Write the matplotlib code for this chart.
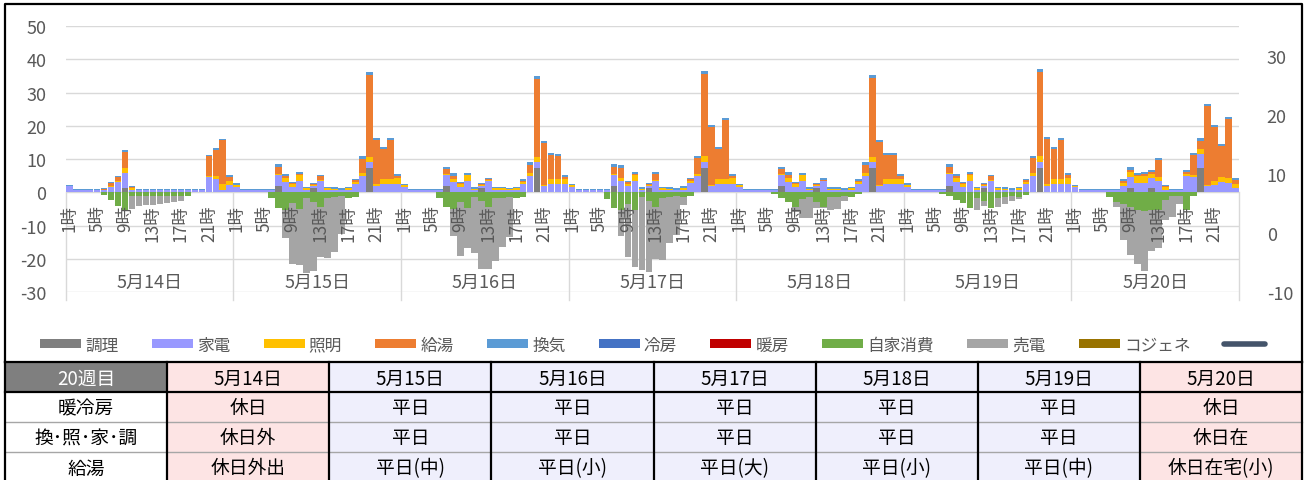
import numpy as np
import matplotlib.pyplot as plt
from matplotlib.patches import Rectangle

plt.rcParams['font.family'] = ['Noto Sans CJK JP', 'DejaVu Sans']
plt.rcParams['axes.unicode_minus'] = False

# ---- data (kWh-ish per hour, 7 days x 24 hours) ----
days = ['5月14日', '5月15日', '5月16日', '5月17日', '5月18日', '5月19日', '5月20日']
hour_ticks = [1, 5, 9, 13, 17, 21]

cook = [
    [0, 0, 0, 0, 0, 0, 0, 0, 1.4, 0, 0, 0, 0, 0, 0, 0, 0, 0, 0, 0, 0, 0, 0, 0],
    [0, 0, 0, 0, 0, 0, 2.0, 0, 0, 0, 0, 1.3, 0, 0, 0, 0, 0, 0, 0, 7.2, 0, 0, 0, 0],
    [0, 0, 0, 0, 0, 0, 2.0, 0, 0, 0, 0, 1.3, 0, 0, 0, 0, 0, 0, 0, 7.3, 0, 0, 0, 0],
    [0, 0, 0, 0, 0, 0, 2.0, 0, 0, 0, 0, 1.3, 0, 0, 0, 0, 0, 0, 0, 7.3, 0, 0, 0, 0],
    [0, 0, 0, 0, 0, 0, 2.0, 0, 0, 0, 0, 1.3, 0, 0, 0, 0, 0, 0, 0, 7.4, 0, 0, 0, 0],
    [0, 0, 0, 0, 0, 0, 2.0, 0, 0, 0, 0, 1.3, 0, 0, 0, 0, 0, 0, 0, 7.3, 0, 0, 0, 0],
    [0, 0, 0, 0, 0, 0, 0, 0, 1.2, 0, 0, 1.2, 0, 0, 0, 0, 0, 0, 7.3, 0, 0, 0, 0, 0],
]
appliance = [
    [1.9, 0.7, 0.7, 0.7, 0.7, 0.8, 1.6, 3.0, 4.5, 0.8, 0.7, 0.7, 0.7, 0.7, 0.7, 0.7, 0.7, 0.7, 0.7, 0.7, 4.5, 4.0, 0.8, 2.2],
    [1.5, 0.7, 0.7, 0.7, 0.7, 0.7, 3.2, 3.2, 1.6, 3.5, 0.7, 0.6, 3.4, 0.8, 0.8, 0.8, 0.8, 2.6, 5.0, 1.8, 1.9, 2.5, 2.4, 2.4],
    [1.5, 0.7, 0.7, 0.7, 0.7, 0.7, 3.2, 3.0, 1.7, 3.5, 0.7, 0.7, 3.5, 0.8, 0.8, 0.8, 0.8, 2.6, 5.0, 1.7, 1.9, 2.5, 2.4, 2.4],
    [1.5, 0.7, 0.7, 0.7, 0.7, 0.7, 3.3, 3.5, 1.8, 3.5, 0.7, 0.6, 3.4, 0.8, 0.8, 0.8, 0.8, 2.7, 5.0, 1.7, 1.9, 2.5, 2.4, 2.4],
    [1.6, 0.7, 0.7, 0.7, 0.7, 0.7, 3.3, 3.2, 1.7, 3.5, 0.7, 0.6, 3.3, 0.8, 0.8, 0.8, 0.8, 2.6, 5.0, 1.7, 1.9, 2.5, 2.4, 2.4],
    [1.5, 0.7, 0.7, 0.7, 0.7, 0.7, 3.5, 3.2, 1.6, 3.5, 0.7, 0.6, 3.4, 0.8, 0.8, 0.8, 0.8, 2.6, 5.0, 1.8, 1.9, 2.5, 2.4, 2.4],
    [1.6, 0.7, 0.7, 0.7, 0.7, 0.7, 0.7, 2.0, 3.5, 2.9, 2.9, 3.0, 3.5, 0.8, 0.8, 0.8, 4.8, 4.5, 4.2, 1.8, 2.1, 3.1, 2.8, 1.4],
]
lighting = [
    [0, 0, 0, 0, 0, 0, 0.4, 0.4, 1.5, 0.5, 0, 0, 0, 0, 0, 0, 0, 0, 0, 0, 0.3, 1.0, 1.6, 1.2],
    [0.6, 0, 0, 0, 0, 0, 0.2, 1.0, 0.9, 1.7, 0.5, 0.2, 0.2, 0.4, 0.3, 0, 0.4, 0.6, 0.7, 1.7, 0.6, 1.5, 1.6, 1.8],
    [0.6, 0, 0, 0, 0, 0, 0.2, 1.0, 0.8, 1.6, 0.4, 0.2, 0.1, 0.4, 0.4, 0.1, 0.4, 0.5, 0.9, 1.6, 0.4, 1.4, 1.6, 1.7],
    [0.6, 0, 0, 0, 0, 0, 0.3, 0.9, 0.8, 1.7, 0.4, 0.2, 0.3, 0.4, 0.3, 0, 0.5, 0.6, 0.6, 1.8, 0.4, 1.5, 1.6, 1.8],
    [0.6, 0, 0, 0, 0, 0, 0.2, 1.0, 0.8, 1.6, 0.4, 0.2, 0.1, 0.3, 0.3, 0, 0.4, 0.5, 0.9, 1.6, 0.4, 1.4, 1.6, 1.7],
    [0.6, 0, 0, 0, 0, 0, 0.2, 1.0, 0.9, 1.7, 0.5, 0.2, 0.2, 0.4, 0.3, 0, 0.4, 0.6, 0.7, 1.7, 0.6, 1.5, 1.6, 1.9],
    [0.4, 0, 0, 0, 0, 0, 0, 0.7, 1.3, 2.0, 2.0, 1.3, 1.2, 0.8, 0, 0, 0.6, 0.6, 1.5, 0.3, 1.3, 1.4, 1.6, 1.2],
]
hot_water = [
    [0, 0, 0, 0, 0, 0.1, 0.8, 1.2, 4.6, 0.2, 0, 0, 0, 0, 0, 0, 0, 0, 0, 0, 6.0, 7.8, 13.4, 1.3],
    [0.2, 0, 0, 0, 0, 0, 2.2, 0.8, 0.3, 0.4, 0, 0.4, 1.2, 0, 0, 0, 0.1, 0.4, 4.3, 24.5, 13.4, 9.1, 11.9, 0.7],
    [0, 0, 0, 0, 0, 0, 1.5, 0.9, 0.2, 0.2, 0, 0.2, 0.3, 0, 0, 0, 0, 0.4, 2.3, 23.5, 12.6, 7.3, 7.0, 0.5],
    [0, 0, 0, 0, 0, 0, 2.1, 3.0, 0.4, 0.4, 0, 0.5, 1.8, 0, 0, 0, 0.1, 0.6, 4.6, 24.8, 17.3, 9.1, 17.9, 0.7],
    [0, 0, 0, 0, 0, 0, 1.5, 1.1, 0.3, 0.2, 0, 0.5, 0.3, 0, 0, 0, 0, 0.4, 2.3, 23.6, 12.8, 7.4, 7.1, 0.7],
    [0.2, 0, 0, 0, 0, 0, 2.0, 0.8, 0.3, 0.4, 0, 0.4, 1.2, 0, 0, 0, 0.1, 0.4, 4.5, 25.4, 13.6, 9.1, 11.9, 0.8],
    [0, 0, 0, 0, 0, 0, 0, 0.8, 0.8, 0.4, 0.6, 0.6, 4.9, 0.3, 0, 0, 0.7, 6.0, 2.5, 24.0, 16.2, 9.6, 17.6, 1.0],
]
ventilation = [
    [0.3, 0.3, 0.3, 0.3, 0.3, 0.3, 0.3, 0.4, 0.7, 0.3, 0.3, 0.3, 0.3, 0.3, 0.3, 0.3, 0.3, 0.3, 0.3, 0.3, 0.4, 0.4, 0.4, 0.5],
    [0.4, 0.3, 0.3, 0.3, 0.3, 0.3, 0.8, 0.6, 0.3, 0.4, 0.4, 0.3, 0.4, 0.4, 0.4, 0.4, 0.4, 0.4, 0.8, 0.9, 0.6, 0.6, 0.6, 0.6],
    [0.4, 0.3, 0.3, 0.3, 0.3, 0.3, 0.7, 0.8, 0.4, 0.4, 0.4, 0.3, 0.5, 0.4, 0.4, 0.4, 0.4, 0.5, 0.8, 0.9, 0.6, 0.6, 0.6, 0.6],
    [0.4, 0.3, 0.3, 0.3, 0.3, 0.3, 0.7, 0.7, 0.4, 0.4, 0.4, 0.3, 0.5, 0.4, 0.4, 0.4, 0.4, 0.5, 0.8, 0.9, 0.6, 0.6, 0.6, 0.6],
    [0.4, 0.3, 0.3, 0.3, 0.3, 0.3, 0.7, 0.7, 0.4, 0.4, 0.4, 0.3, 0.5, 0.4, 0.4, 0.4, 0.4, 0.5, 0.8, 0.9, 0.6, 0.6, 0.6, 0.6],
    [0.4, 0.3, 0.3, 0.3, 0.3, 0.3, 0.7, 0.6, 0.3, 0.4, 0.4, 0.3, 0.4, 0.4, 0.4, 0.4, 0.4, 0.4, 0.8, 0.9, 0.6, 0.6, 0.6, 0.6],
    [0.3, 0.3, 0.3, 0.3, 0.3, 0.3, 0.3, 0.5, 0.8, 0.5, 0.5, 0.6, 0.6, 0.3, 0.3, 0.3, 0.6, 0.8, 0.9, 0.6, 0.7, 0.6, 0.7, 0.6],
]
cooling = [0] * 168
heating = [0] * 168
cogene = [0] * 168
self_use = [
    [0, 0, 0, 0, 0, -0.8, -2.3, -4.2, -5.7, -1.2, -1.0, -1.0, -1.0, -1.0, -1.0, -1.0, -1.0, -1.0, 0, 0, 0, 0, 0, 0],
    [0, 0, 0, 0, 0, -1.8, -4.8, -5.2, -3.1, -5.0, -1.6, -2.8, -4.5, -1.6, -1.5, -1.2, -1.7, -1.5, 0, 0, 0, 0, 0, 0],
    [0, 0, 0, 0, 0, -1.8, -4.5, -5.0, -3.0, -4.6, -1.5, -2.6, -4.3, -1.6, -1.6, -1.3, -1.6, -1.3, 0, 0, 0, 0, 0, 0],
    [0, 0, 0, 0, 0, -1.9, -4.8, -5.3, -3.4, -5.2, -1.5, -2.6, -4.5, -1.6, -1.5, -1.2, -1.5, -1.2, 0, 0, 0, 0, 0, 0],
    [0, 0, 0, 0, 0, -0.6, -1.8, -3.0, -4.3, -2.0, -1.5, -2.8, -4.3, -1.5, -1.5, -1.2, -1.3, -0.6, 0, 0, 0, 0, 0, 0],
    [0, 0, 0, 0, 0, -0.4, -1.2, -2.3, -3.1, -4.6, -1.6, -2.7, -4.7, -1.6, -1.5, -1.2, -1.5, -0.8, 0, 0, 0, 0, 0, 0],
    [0, 0, 0, 0, 0, -1.5, -3.0, -3.5, -4.5, -5.3, -5.5, -5.3, -5.3, -2.2, -1.1, -1.1, -5.3, -1.0, 0, 0, 0, 0, 0, 0],
]
sold = [
    [0, 0, 0, 0, 0, 0, 0, 0, 0, -3.7, -3.1, -2.9, -2.8, -2.6, -2.3, -1.9, -1.5, 0, 0, 0, 0, 0, 0, 0],
    [0, 0, 0, 0, 0, 0, 0, -8.4, -18.4, -16.8, -22.7, -20.8, -14.8, -18.0, -16.3, -11.3, 0, 0, 0, 0, 0, 0, 0, 0],
    [0, 0, 0, 0, 0, 0, 0, -8.1, -16.1, -12.0, -16.8, -20.4, -18.7, -19.0, -14.9, -12.0, 0, 0, 0, 0, 0, 0, 0, 0],
    [0, 0, 0, 0, 0, 0, 0, -7.7, -16.1, -17.3, -21.8, -21.2, -15.5, -18.7, -13.7, -11.6, -2.3, 0, 0, 0, 0, 0, 0, 0],
    [0, 0, 0, 0, 0, 0, 0, 0, -1.5, -5.8, -6.3, -2.0, -0.5, -3.8, -3.5, -1.5, 0, 0, 0, 0, 0, 0, 0, 0],
    [0, 0, 0, 0, 0, 0, 0, 0, 0, 0, -3.7, -1.5, 0, -2.8, -2.0, -1.3, -0.4, 0, 0, 0, 0, 0, 0, 0],
    [0, 0, 0, 0, 0, 0, -1.5, -10.8, -14.3, -16.2, -18.0, -12.2, -11.5, -6.1, -6.2, -2.4, 0, 0, 0, 0, 0, 0, 0, 0],
]

# table under the chart
week_label = '20週目'
row_heads = ['暖冷房', '換･照･家･調', '給湯']
ac_type = ['休日', '平日', '平日', '平日', '平日', '平日', '休日']
life_type = ['休日外', '平日', '平日', '平日', '平日', '平日', '休日在']
hw_type = ['休日外出', '平日(中)', '平日(小)', '平日(大)', '平日(小)', '平日(中)', '休日在宅(小)']
holiday = [True, False, False, False, False, False, True]

# ---- figure ----
W, H = 1307, 481
fig = plt.figure(figsize=(W / 100, H / 100), dpi=100)


def fx(px):
    return px / W


def fy(py):
    return 1 - py / H


gray_txt = '#595959'
ax = fig.add_axes([fx(65.7), fy(293.3), fx(1239) - fx(65.7), fy(27) - fy(293.3)])

x = np.arange(168)
bw = 0.96
bottom = np.zeros(168)
handles = []
pos_series = [(cook, '#7f7f7f', '調理'), (appliance, '#9999ff', '家電'), (lighting, '#ffc000', '照明'),
              (hot_water, '#ed7d31', '給湯'), (ventilation, '#5b9bd5', '換気'),
              (cooling, '#4472c4', '冷房'), (heating, '#c00000', '暖房')]
for vals, col, name in pos_series:
    v = np.array(vals, dtype=float).ravel()
    b = ax.bar(x, v, bw, bottom=bottom, color=col, linewidth=0, zorder=2)
    handles.append((b, name))
    bottom += v

self_v = np.array(self_use, dtype=float).ravel()
sold_v = np.array(sold, dtype=float).ravel()
b = ax.bar(x, self_v, bw, color='#70ad47', linewidth=0, zorder=2)
handles.append((b, '自家消費'))
b = ax.bar(x, sold_v, bw, bottom=self_v, color='#a5a5a5', linewidth=0, zorder=2)
handles.append((b, '売電'))
b = ax.bar(x, np.array(cogene, dtype=float), bw, bottom=bottom, color='#997300', linewidth=0, zorder=2)
handles.append((b, 'コジェネ'))

ax.set_xlim(-0.5, 167.5)
ax.set_ylim(-30, 50)
ax.set_yticks(range(-30, 51, 10))
ax.grid(axis='y', color='#d9d9d9', lw=1)
ax.set_axisbelow(True)
ax.set_xticks([])
for s in ax.spines.values():
    s.set_visible(False)
ax.tick_params(axis='y', length=0, pad=14, labelsize=13, labelcolor=gray_txt)

# multi-level category axis: hours and days
for d in range(7):
    for h in hour_ticks:
        ax.text(d * 24 + h - 1, -3.5, f'{h}時', rotation=90, ha='center', va='top',
                fontsize=12.5, color=gray_txt, zorder=5)
    ax.text(d * 24 + 11.5, -27, days[d], ha='center', va='center', fontsize=13, color=gray_txt)
for k in range(8):
    ax.plot([24 * k - 0.5] * 2, [0, -32.2], color='#d9d9d9', lw=1, clip_on=False, zorder=1)

ax2 = ax.twinx()
ax2.set_ylim(-10, 35)
ax2.set_yticks([-10, 0, 10, 20, 30])
for s in ax2.spines.values():
    s.set_visible(False)
ax2.tick_params(axis='y', length=0, pad=20, labelsize=13, labelcolor=gray_txt)
line, = ax2.plot([], [], color='#44546a', lw=4, solid_capstyle='round')
handles.append((line, ''))

fig.legend([h for h, _ in handles], [n for _, n in handles], ncol=11, loc='center left',
           bbox_to_anchor=(fx(40), fy(346)), frameon=False, fontsize=12, handlelength=2.46,
           handleheight=0.5, handletextpad=0.25, columnspacing=2.0, borderpad=0,
           borderaxespad=0, labelcolor=gray_txt)

# ---- frame and table, drawn in pixel coordinates ----
ov = fig.add_axes([0, 0, 1, 1], zorder=10)
ov.set_xlim(0, W)
ov.set_ylim(H, 0)
ov.axis('off')
ov.patch.set_alpha(0)

cols = np.linspace(5, 1302, 9)
rows = [363, 393, 423, 453, 483]
table_rows = [days, ac_type, life_type, hw_type]
first_col = [week_label] + row_heads
for r in range(4):
    for c in range(8):
        if c == 0:
            fc = '#7f7f7f' if r == 0 else 'white'
            txt, tc = first_col[r], ('white' if r == 0 else 'black')
        else:
            fc = '#fde4e4' if holiday[c - 1] else '#efeffc'
            txt, tc = table_rows[r][c - 1], 'black'
        ov.add_patch(Rectangle((cols[c], rows[r]), cols[c + 1] - cols[c], rows[r + 1] - rows[r],
                               facecolor=fc, edgecolor='none'))
        ov.text((cols[c] + cols[c + 1]) / 2, (rows[r] + rows[r + 1]) / 2 + 1, txt,
                ha='center', va='center', fontsize=13.5, color=tc)

for yy in rows[2:4]:
    ov.plot([5, 1302], [yy, yy], color='#a6a6a6', lw=1)
for yy in rows[:2]:
    ov.plot([5, 1302], [yy, yy], color='black', lw=1.6)
for xx in cols:
    ov.plot([xx, xx], [363, 483], color='black', lw=1.6)
# outer chart frame
ov.plot([5, 5, 1302, 1302], [363, 5, 5, 363], color='black', lw=1.6)

fig.savefig('out.png', dpi=100)
